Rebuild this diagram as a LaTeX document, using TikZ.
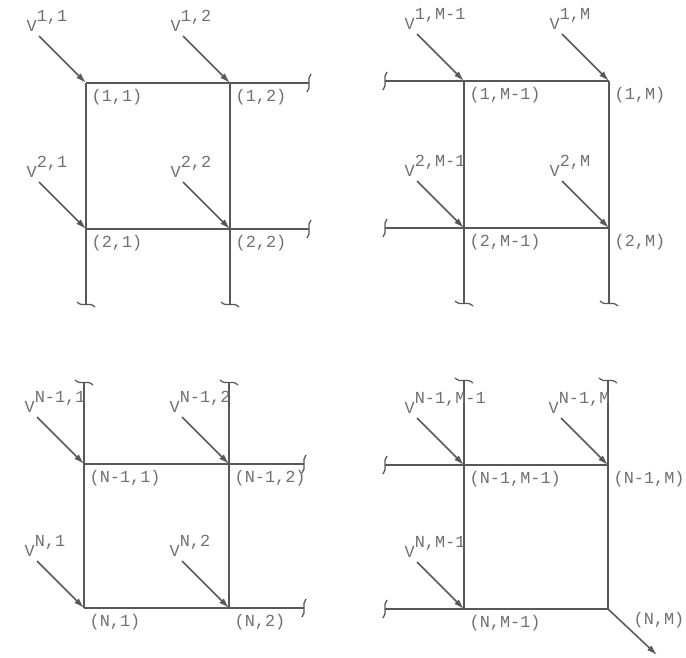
\documentclass[tikz,border=0pt]{standalone}
\usepackage{fontspec}
\setmonofont{Liberation Mono}
\usetikzlibrary{arrows.meta, calc}
\definecolor{cline}{HTML}{585858}
\definecolor{ctext}{HTML}{707070}
\tikzset{
  every picture/.style={font=\ttfamily\fontsize{12}{14}\selectfont, line width=0.9pt},
  member/.style={draw=cline},
  load/.style={draw=cline, line width=1.1pt, -{Latex[length=2.6mm, width=1.6mm]}},
  joint/.style={text=ctext, anchor=north west, inner sep=0pt},
  force/.style={text=ctext, anchor=base west, inner sep=0pt},
  vbreak/.pic={\draw[cline, line width=0.9pt] (2,-9) .. controls (-3,-4) and (3,4) .. (-2,9);},
  hbreak/.pic={\draw[cline, line width=0.9pt] (-9,-2) .. controls (-3,4) and (3,-3) .. (9,3);},
}
\newcommand{\vload}[1]{V\raisebox{7pt}{#1}}

\begin{document}
\begin{tikzpicture}[x=0.025cm, y=-0.025cm]
  \useasboundingbox (0,0) rectangle (686,658);
  % joints of the four corner panels
  \foreach \n/\x/\y in {a11/86/83, a12/230/83, a21/86/229, a22/230/229,
                        b11/464/81, b12/609/81, b21/464/228, b22/609/228,
                        c11/84/464, c12/229/464, c21/84/608, c22/229/608,
                        d11/464/465, d12/608/465, d21/464/609, d22/608/609}
    \coordinate (\n) at (\x,\y);
  % cut ends of the members
  \foreach \n/\x/\y in {ea1/309/83, ea2/309/229, ea3/86/304, ea4/230/304,
                        eb1/385/81, eb2/385/228, eb3/464/303, eb4/609/303,
                        ec1/84/382, ec2/229/382, ec3/304/464, ec4/304/608,
                        ed1/464/380, ed2/608/380, ed3/385/465, ed4/385/609}
    \coordinate (\n) at (\x,\y);
  % members
  \draw[member] (a11) -- (a12) -- (ea1) pic {vbreak};
  \draw[member] (a21) -- (a22) -- (ea2) pic {vbreak};
  \draw[member] (a11) -- (a21) -- (ea3) pic {hbreak};
  \draw[member] (a12) -- (a22) -- (ea4) pic {hbreak};
  \draw[member] (eb1) pic {vbreak} -- (b11) -- (b12);
  \draw[member] (eb2) pic {vbreak} -- (b21) -- (b22);
  \draw[member] (b11) -- (b21) -- (eb3) pic {hbreak};
  \draw[member] (b12) -- (b22) -- (eb4) pic {hbreak};
  \draw[member] (ec1) pic {hbreak} -- (c11) -- (c21);
  \draw[member] (ec2) pic {hbreak} -- (c12) -- (c22);
  \draw[member] (c11) -- (c12) -- (ec3) pic {vbreak};
  \draw[member] (c21) -- (c22) -- (ec4) pic {vbreak};
  \draw[member] (ed1) pic {hbreak} -- (d11) -- (d21);
  \draw[member] (ed2) pic {hbreak} -- (d12) -- (d22);
  \draw[member] (ed3) pic {vbreak} -- (d11) -- (d12);
  \draw[member] (ed4) pic {vbreak} -- (d21) -- (d22);
  % loads and joint labels
  \foreach \n/\t in {a11/{1,1}, a12/{1,2}, a21/{2,1}, a22/{2,2},
                     b11/{1,M-1}, b12/{1,M}, b21/{2,M-1}, b22/{2,M},
                     c11/{N-1,1}, c12/{N-1,2}, c21/{N,1}, c22/{N,2},
                     d11/{N-1,M-1}, d12/{N-1,M}, d21/{N,M-1}} {
    \coordinate (s\n) at ($(\n)+(-47,-47)$);
    \draw[load] (s\n) -- (\n);
    \node[force] (v\n) at ($(s\n)+(-13,-5)$) {\vload{\t}};
    \node[joint] (j\n) at ($(\n)+(5,6)$) {(\t)};
  }
  % reaction at the last joint
  \coordinate (out) at (657,655);
  \draw[load] (d22) -- (out);
  \node[joint] (jd22) at ($(d22)+(25,3)$) {(N,M)};
\end{tikzpicture}
\end{document}
